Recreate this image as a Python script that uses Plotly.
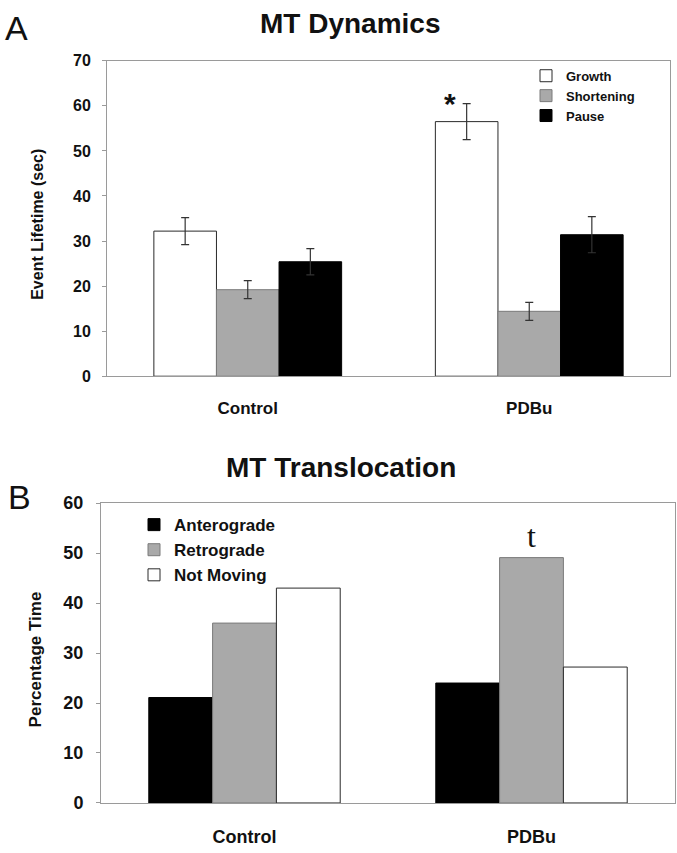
import plotly.graph_objects as go

W, H = 677, 853

# ---------------- data ----------------
categories = ["Control", "PDBu"]

# Panel A: MT Dynamics (event lifetime, sec)
growth = [32.2, 56.5]
growth_err = [3.0, 4.0]
shortening = [19.2, 14.4]
shortening_err = [2.0, 2.0]
pause = [25.4, 31.4]
pause_err = [2.9, 4.0]

# Panel B: MT Translocation (percentage time)
anterograde = [21.1, 24.0]
retrograde = [36.0, 49.1]
not_moving = [43.0, 27.2]

yticks_a = [0, 10, 20, 30, 40, 50, 60, 70]
yticks_b = [0, 10, 20, 30, 40, 50, 60]

WHITE = "#ffffff"
GRAY = "#a9a9a9"
BLACK = "#000000"
EDGE = "#2a2a2a"
AXC = "#9a9a9a"
FONT = "Liberation Sans"
TXT = "#111111"


def px_x(p):
    return p / W


def px_y(p):
    return 1 - p / H


fig = go.Figure()

err_style = dict(type="data", symmetric=True, color="#333333", thickness=1.2, width=4)

fig.add_trace(go.Bar(name="Growth", x=categories, y=growth,
                     error_y=dict(array=growth_err, **err_style),
                     marker=dict(color=WHITE, line=dict(color=EDGE, width=1)),
                     xaxis="x", yaxis="y", legend="legend"))
fig.add_trace(go.Bar(name="Shortening", x=categories, y=shortening,
                     error_y=dict(array=shortening_err, **err_style),
                     marker=dict(color=GRAY, line=dict(color="#7a7a7a", width=1)),
                     xaxis="x", yaxis="y", legend="legend"))
fig.add_trace(go.Bar(name="Pause", x=categories, y=pause,
                     error_y=dict(array=pause_err, **err_style),
                     marker=dict(color=BLACK, line=dict(color=BLACK, width=1)),
                     xaxis="x", yaxis="y", legend="legend"))

fig.add_trace(go.Bar(name="Anterograde", x=categories, y=anterograde,
                     marker=dict(color=BLACK, line=dict(color=BLACK, width=1)),
                     xaxis="x2", yaxis="y2", legend="legend2"))
fig.add_trace(go.Bar(name="Retrograde", x=categories, y=retrograde,
                     marker=dict(color=GRAY, line=dict(color="#7a7a7a", width=1)),
                     xaxis="x2", yaxis="y2", legend="legend2"))
fig.add_trace(go.Bar(name="Not Moving", x=categories, y=not_moving,
                     marker=dict(color=WHITE, line=dict(color=EDGE, width=1)),
                     xaxis="x2", yaxis="y2", legend="legend2"))

axis_common = dict(showline=True, mirror=True, linecolor=AXC, linewidth=1,
                   showgrid=False, zeroline=False)

fig.update_layout(
    width=W, height=H,
    margin=dict(l=0, r=0, t=0, b=0),
    paper_bgcolor="white", plot_bgcolor="white",
    barmode="group", bargap=0.333, bargroupgap=0,
    font=dict(family=FONT, color=TXT),
    xaxis=dict(domain=[px_x(107), px_x(670)], anchor="y", type="category",
               ticks="", tickfont=dict(size=17, weight="bold", color=TXT),
               ticklabelstandoff=16, **axis_common),
    yaxis=dict(domain=[px_y(375), px_y(52)], anchor="x", range=[0, 70],
               tickvals=yticks_a, ticks="outside", ticklen=4, tickcolor=AXC,
               tickfont=dict(size=16, weight="bold", color=TXT),
               ticklabelstandoff=8, **axis_common),
    xaxis2=dict(domain=[px_x(101), px_x(675)], anchor="y2", type="category",
                ticks="", tickfont=dict(size=18, weight="bold", color=TXT),
                ticklabelstandoff=17, **axis_common),
    yaxis2=dict(domain=[px_y(812), px_y(505)], anchor="x2", range=[0, 60],
                tickvals=yticks_b, ticks="outside", ticklen=4, tickcolor=AXC,
                tickfont=dict(size=18, weight="bold", color=TXT),
                ticklabelstandoff=9, **axis_common),
    legend=dict(x=px_x(526), y=px_y(52), xanchor="left", yanchor="top",
                bgcolor="rgba(0,0,0,0)", font=dict(size=13, weight="bold", color=TXT),
                itemwidth=30, tracegroupgap=0),
    legend2=dict(x=px_x(134), y=px_y(509), xanchor="left", yanchor="top",
                 bgcolor="rgba(0,0,0,0)", font=dict(size=17, weight="bold", color=TXT),
                 itemwidth=30, tracegroupgap=0),
    showlegend=True,
)


def ann(text, x, y, size, **kw):
    d = dict(text=text, x=px_x(x), y=px_y(y), xref="paper", yref="paper",
             xanchor="center", yanchor="middle", showarrow=False,
             font=dict(size=size, color=TXT, **kw.pop("fontkw", {})))
    d.update(kw)
    return d


annotations = [
    ann("MT Dynamics", 350, 14, 28, fontkw=dict(weight="bold")),
    ann("MT Translocation", 341, 468, 28, fontkw=dict(weight="bold")),
    ann("A", 16, 18, 34),
    ann("B", 19, 499, 34),
    ann("Event Lifetime (sec)", 38, 220, 16, textangle=-90, fontkw=dict(weight="bold")),
    ann("Percentage Time", 35, 665, 17, textangle=-90, fontkw=dict(weight="bold")),
    # significance marks
    dict(text="*", x=0.718, y=growth[1] + growth_err[1], xref="x", yref="y",
         xanchor="center", yanchor="middle", showarrow=False,
         font=dict(size=30, weight="bold", color=TXT)),
    dict(text="t", x=1, y=retrograde[1] + 0.4, xref="x2", yref="y2",
         xanchor="center", yanchor="bottom", showarrow=False,
         font=dict(size=32, family="Liberation Serif", color=TXT)),
]
fig.update_layout(annotations=annotations)

fig.write_html("out.html", config={"displayModeBar": False},
               post_script="document.body.style.margin='0';")
